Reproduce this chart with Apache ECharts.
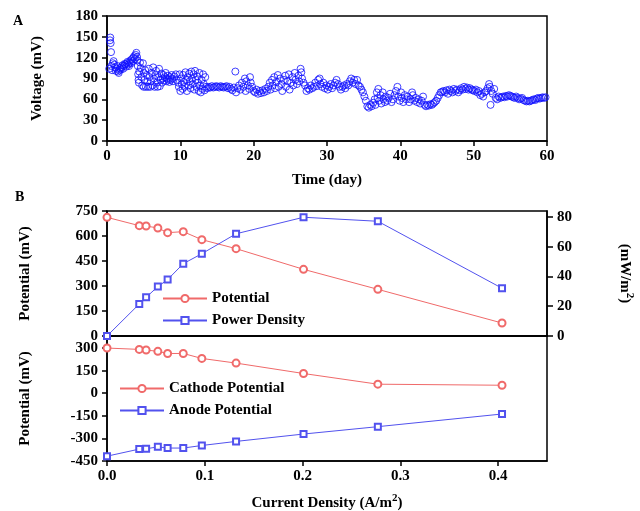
<!DOCTYPE html>
<html>
<head>
<meta charset="utf-8">
<script src="https://cdn.jsdelivr.net/npm/echarts@6/dist/echarts.min.js"></script>
<style>
  html, body { margin: 0; padding: 0; background: #fff; }
  #chart { width: 640px; height: 511px; }
</style>
</head>
<body>
<div id="chart"></div>
<script>
// Panel A: cell voltage over time, [day, mV]
const voltageData = [
  [0.3,104],[0.4,145],[0.45,149],[0.5,141],[0.55,128],[0.6,108],[0.7,102],[0.8,112],[0.9,115],[1.0,110],
  [1.1,106],[1.2,101],[1.3,104],[1.4,108],[1.5,100],[1.6,98],[1.7,102],[1.8,105],[1.9,103],[2.0,106],
  [2.1,109],[2.2,104],[2.3,108],[2.4,111],[2.5,110],[2.6,107],[2.7,112],[2.8,114],[2.9,110],[3.0,108],
  [3.1,113],[3.2,116],[3.3,112],[3.4,118],[3.5,115],[3.6,120],[3.7,122],[3.8,118],[3.9,124],[4.0,127],
  [4.1,121],[4.15,116],[4.2,108],[4.25,96],[4.3,88],[4.35,84],[4.4,100],
  [4.5,113],[4.6,105],[4.7,92],[4.8,80],[4.9,112],[5.0,98],[5.0,78],[5.1,88],[5.2,102],[5.3,78],[5.4,95],
  [5.5,85],[5.6,78],[5.7,104],[5.8,92],[5.9,78],[6.0,86],[6.1,98],[6.2,80],[6.3,106],[6.4,90],[6.5,78],
  [6.6,95],[6.7,101],[6.8,84],[6.9,78],[7.0,92],[7.1,104],[7.2,79],[7.3,88],[7.4,97],[7.5,84],[7.6,90],
  [7.7,95],[7.8,87],[7.9,92],[8.0,98],[8.1,86],[8.2,90],[8.3,94],[8.4,88],[8.5,85],
  [8.6,92],[8.7,88],[8.8,95],[8.9,90],[9.0,86],[9.2,93],[9.4,96],[9.5,88],[9.7,84],[9.8,78],[9.9,96],
  [10.0,72],[10.1,90],[10.2,82],[10.3,75],
  [10.4,95],[10.5,85],[10.6,78],[10.7,99],[10.8,88],[10.9,72],[11.0,92],[11.1,80],[11.2,97],[11.3,86],
  [11.4,76],[11.5,100],[11.6,90],[11.7,82],[11.8,96],[11.9,74],[12.0,101],[12.1,88],[12.2,78],[12.3,93],
  [12.4,84],[12.5,72],[12.6,98],[12.7,80],[12.8,70],[12.9,88],[13.0,75],[13.1,96],[13.2,82],[13.3,73],
  [13.4,92],[13.5,78],
  [13.7,76],[13.9,78],[14.1,77],[14.3,79],[14.5,77],[14.7,78],[14.9,79],[15.1,78],[15.3,77],[15.5,79],
  [15.7,78],[15.9,77],[16.1,78],[16.3,79],[16.5,76],[16.7,78],[16.9,75],
  [17.1,73],[17.3,77],[17.5,100],[17.6,70],[17.8,76],[18.0,80],[18.2,74],[18.4,84],[18.6,78],[18.8,90],
  [18.9,72],[19.0,86],[19.2,80],[19.4,75],[19.5,92],[19.6,84],[19.8,78],[20.0,72],
  [20.2,70],[20.4,74],[20.6,68],[20.8,72],[21.0,69],[21.2,73],[21.4,70],[21.6,75],[21.8,72],
  [22.0,78],[22.2,84],[22.3,74],[22.5,88],[22.6,80],[22.8,92],[22.9,76],[23.1,85],[23.3,95],[23.4,78],
  [23.6,90],[23.8,82],[23.9,72],[24.1,88],[24.3,94],[24.4,78],[24.6,86],[24.8,96],[24.9,74],[25.1,84],
  [25.3,92],[25.4,80],[25.6,98],[25.7,88],[25.9,82],[26.1,94],[26.2,86],[26.4,104],[26.5,99],[26.6,90],
  [26.8,84],[27.0,80],
  [27.2,72],[27.4,76],[27.6,74],[27.8,80],[28.0,76],[28.2,78],[28.4,84],[28.6,79],[28.8,88],[29.0,90],
  [29.1,82],[29.3,78],[29.5,84],[29.7,76],[29.9,80],[30.1,74],[30.3,78],[30.5,82],[30.7,76],[30.9,80],
  [31.1,84],[31.3,88],[31.5,82],[31.7,78],[31.9,74],[32.1,78],[32.3,80],[32.5,76],[32.7,82],[32.9,80],
  [33.1,86],[33.3,90],[33.5,84],[33.7,88],[33.9,82],[34.1,88],[34.3,80],[34.5,78],[34.7,74],[34.9,70],
  [35.1,64],[35.3,58],
  [35.5,50],[35.7,48],[35.9,52],[36.1,50],[36.3,55],[36.5,60],[36.6,52],[36.8,70],[36.9,62],[37.0,75],
  [37.1,58],[37.3,66],[37.4,54],[37.6,70],[37.7,60],[37.9,56],[38.0,64],[38.2,58],[38.4,62],[38.6,68],
  [38.8,56],[39.0,60],[39.2,66],[39.4,72],[39.6,78],[39.7,64],[39.9,58],[40.1,70],[40.2,62],[40.4,56],
  [40.6,66],[40.8,60],[41.0,64],[41.2,56],[41.4,60],[41.6,70],[41.7,66],[41.9,58],[42.1,62],[42.3,56],
  [42.5,60],[42.7,54],[42.9,58],[43.1,64],[43.3,52],[43.5,50],[43.7,52],
  [43.9,51],[44.1,53],[44.3,52],[44.5,54],[44.7,56],[44.9,58],[45.1,62],[45.3,66],[45.5,70],[45.7,71],
  [45.9,72],[46.1,70],[46.3,73],[46.5,68],[46.7,74],[46.9,72],[47.1,70],[47.3,75],[47.5,72],[47.7,74],
  [47.9,70],[48.1,73],[48.3,76],[48.5,74],[48.7,78],[48.9,75],[49.1,77],[49.3,74],[49.5,76],[49.7,74],
  [49.9,73],[50.1,72],[50.3,74],[50.5,70],[50.7,72],[50.9,66],[51.1,68],[51.3,64],[51.5,70],[51.7,72],
  [51.9,76],[52.1,82],[52.2,78],[52.3,52],[52.4,72],[52.6,68],[52.8,75],[53.0,62],[53.2,60],[53.4,64],
  [53.6,62],[53.8,63],[54.0,64],[54.2,63],[54.4,65],[54.6,64],[54.8,66],[55.0,65],[55.2,64],[55.4,63],
  [55.6,62],[55.8,64],[56.0,62],[56.2,60],[56.4,61],[56.6,62],[56.8,59],[57.0,58],[57.2,57],[57.4,58],
  [57.6,57],[57.8,58],[58.0,59],[58.2,60],[58.4,59],[58.6,61],[58.8,62],[59.0,61],[59.2,62],[59.4,63],
  [59.6,62],[59.8,63]
]

// Panel B: polarization data
const currentDensity = [0, 0.033, 0.040, 0.052, 0.062, 0.078, 0.097, 0.132, 0.201, 0.277, 0.404]
const cellPotential = [712, 662, 660, 648, 620, 626, 578, 524, 400, 280, 78]
const powerDensity = [0, 21.5, 26.0, 33.2, 37.9, 48.6, 55.3, 68.7, 79.8, 77.1, 32.1]
const cathodePotential = [300, 291, 287, 278, 264, 264, 231, 200, 131, 60, 53]
const anodePotential = [-418, -371, -369, -356, -364, -364, -347, -320, -271, -222, -138]

const FONT = 'Liberation Serif'
const RED = '#f06a6a'
const BLUE = '#5252ee'

const pairs = ys => currentDensity.map((x, i) => [x, ys[i]])

const labelStyle = { color: '#000', fontFamily: FONT, fontWeight: 'bold', fontSize: 15 }
const nameStyle = {
  color: '#000', fontFamily: FONT, fontWeight: 'bold', fontSize: 15,
  rich: { sup: { fontFamily: FONT, fontWeight: 'bold', fontSize: 11, padding: [0, 0, 9, 0] } },
}
const line = { show: true, onZero: false, lineStyle: { color: '#000', width: 1.5 } }
const tick = { show: true, inside: false, length: 5, lineStyle: { color: '#000', width: 1.5 } }

const chart = echarts.init(document.getElementById('chart'), null, { renderer: 'canvas' })

chart.setOption({
  animation: false,
  backgroundColor: '#fff',
  grid: [
    { left: 107, top: 16, width: 440, height: 125, show: true, borderColor: '#000', borderWidth: 1.5, outerBoundsMode: 'none' },
    { left: 107, top: 211, width: 440, height: 125, show: true, borderColor: '#000', borderWidth: 1.5, outerBoundsMode: 'none' },
    { left: 107, top: 336, width: 440, height: 125, show: true, borderColor: '#000', borderWidth: 1.5, outerBoundsMode: 'none' },
  ],
  graphic: [
    { type: 'text', left: 13, top: 14, style: { text: 'A', font: `bold 14px "${FONT}"`, fill: '#000' } },
    { type: 'text', left: 15, top: 190, style: { text: 'B', font: `bold 14px "${FONT}"`, fill: '#000' } },
  ],
  legend: [
    {
      orient: 'vertical', left: 162, top: 291, padding: 0, itemWidth: 44, itemHeight: 9, itemGap: 7,
      textStyle: labelStyle, data: ['Potential', 'Power Density'],
    },
    {
      orient: 'vertical', left: 119, top: 381, padding: 0, itemWidth: 44, itemHeight: 9, itemGap: 7,
      textStyle: labelStyle, data: ['Cathode Potential', 'Anode Potential'],
    },
  ],
  xAxis: [
    {
      gridIndex: 0, type: 'value', min: 0, max: 60, interval: 10,
      name: 'Time (day)', nameLocation: 'middle', nameGap: 32, nameTextStyle: nameStyle, nameMoveOverlap: false,
      axisLine: line, axisTick: tick, axisLabel: { ...labelStyle, margin: 8 }, splitLine: { show: false },
    },
    {
      gridIndex: 1, type: 'value', min: 0, max: 0.45, interval: 0.1,
      axisLine: line, axisTick: { show: false }, axisLabel: { show: false }, splitLine: { show: false },
    },
    {
      gridIndex: 2, type: 'value', min: 0, max: 0.45, interval: 0.1,
      name: 'Current Density (A/m{sup|2})', nameLocation: 'middle', nameGap: 32, nameTextStyle: nameStyle, nameMoveOverlap: false,
      axisLine: line, axisTick: tick,
      axisLabel: { ...labelStyle, margin: 8, showMaxLabel: false, formatter: v => v.toFixed(1) },
      splitLine: { show: false },
    },
  ],
  yAxis: [
    {
      gridIndex: 0, type: 'value', min: 0, max: 180, interval: 30,
      name: 'Voltage (mV)', nameLocation: 'middle', nameGap: 62, nameTextStyle: nameStyle, nameMoveOverlap: false,
      axisLine: line, axisTick: tick, axisLabel: { ...labelStyle, margin: 9 }, splitLine: { show: false },
    },
    {
      gridIndex: 1, type: 'value', min: 0, max: 750, interval: 150,
      name: 'Potential (mV)', nameLocation: 'middle', nameGap: 74, nameTextStyle: nameStyle, nameMoveOverlap: false,
      axisLine: line, axisTick: tick, axisLabel: { ...labelStyle, margin: 9 }, splitLine: { show: false },
    },
    {
      gridIndex: 1, type: 'value', position: 'right', min: 0, max: 84, interval: 20,
      name: '(mW/m{sup|2})', nameLocation: 'middle', nameGap: 68, nameRotate: -90, nameTextStyle: nameStyle, nameMoveOverlap: false,
      axisLine: line, axisTick: { ...tick, length: 6 }, axisLabel: { ...labelStyle, margin: 10, showMaxLabel: false }, splitLine: { show: false },
    },
    {
      gridIndex: 2, type: 'value', min: -450, max: 380, interval: 150,
      name: 'Potential (mV)', nameLocation: 'middle', nameGap: 74, nameTextStyle: nameStyle, nameMoveOverlap: false,
      axisLine: line, axisTick: tick, axisLabel: { ...labelStyle, margin: 9, showMaxLabel: false }, splitLine: { show: false },
    },
  ],
  series: [
    {
      type: 'scatter', xAxisIndex: 0, yAxisIndex: 0, data: voltageData,
      symbol: 'circle', symbolSize: 7,
      itemStyle: { color: 'rgba(0,0,0,0)', borderColor: '#1010ff', borderWidth: 1 },
    },
    {
      name: 'Potential', type: 'line', xAxisIndex: 1, yAxisIndex: 1, data: pairs(cellPotential),
      symbol: 'emptyCircle', symbolSize: 7, lineStyle: { color: RED, width: 1 },
      itemStyle: { color: RED, borderWidth: 1 },
    },
    {
      name: 'Power Density', type: 'line', xAxisIndex: 1, yAxisIndex: 2, data: pairs(powerDensity),
      symbol: 'emptyRect', symbolSize: 6, lineStyle: { color: BLUE, width: 1 },
      itemStyle: { color: BLUE, borderWidth: 1 },
    },
    {
      name: 'Cathode Potential', type: 'line', xAxisIndex: 2, yAxisIndex: 3, data: pairs(cathodePotential),
      symbol: 'emptyCircle', symbolSize: 7, lineStyle: { color: RED, width: 1 },
      itemStyle: { color: RED, borderWidth: 1 },
    },
    {
      name: 'Anode Potential', type: 'line', xAxisIndex: 2, yAxisIndex: 3, data: pairs(anodePotential),
      symbol: 'emptyRect', symbolSize: 6, lineStyle: { color: BLUE, width: 1 },
      itemStyle: { color: BLUE, borderWidth: 1 },
    },
  ],
})
</script>
</body>
</html>
